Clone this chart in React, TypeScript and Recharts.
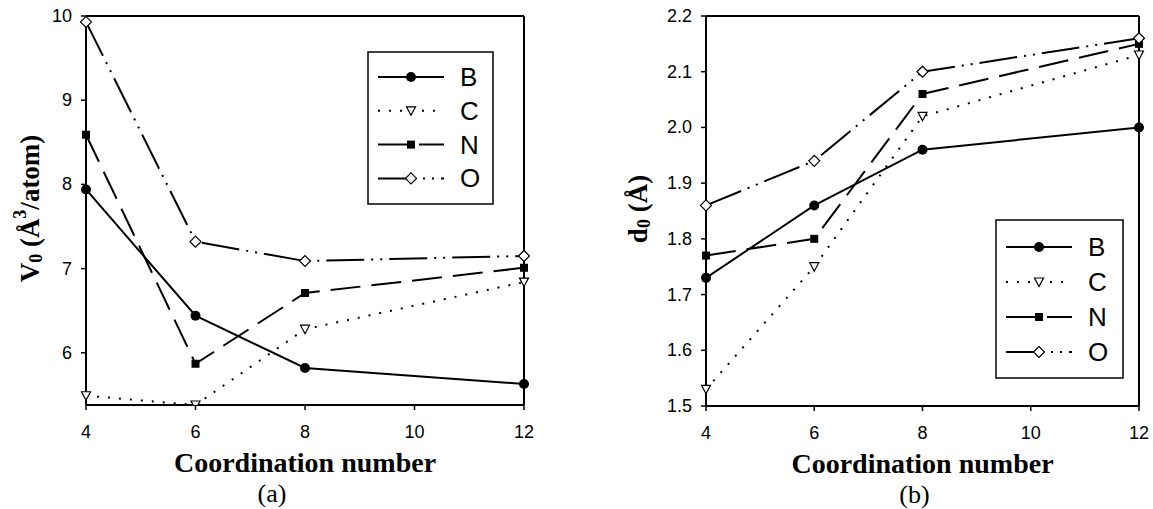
import React from 'react';
import { LineChart, Line, XAxis, YAxis, ReferenceLine } from 'recharts';

// shared x values
const coordination = [4, 6, 8, 12];
const xTicks = [4, 6, 8, 10, 12];

// (a) V0 (Å^3/atom)
const volumeB = [7.94, 6.44, 5.82, 5.63];
const volumeC = [5.49, 5.38, 6.28, 6.84];
const volumeN = [8.59, 5.87, 6.71, 7.01];
const volumeO = [9.93, 7.32, 7.09, 7.15];
const volumeTicks = [6, 7, 8, 9, 10];

// (b) d0 (Å)
const bondB = [1.73, 1.86, 1.96, 2.0];
const bondC = [1.53, 1.75, 2.02, 2.13];
const bondN = [1.77, 1.8, 2.06, 2.15];
const bondO = [1.86, 1.94, 2.1, 2.16];
const bondTicks = [1.5, 1.6, 1.7, 1.8, 1.9, 2.0, 2.1, 2.2];

const seriesNames = ['B', 'C', 'N', 'O'];

const SERIF = "'Times New Roman', 'Liberation Serif', serif";
const SANS = "Arial, 'Liberation Sans', sans-serif";

const lineStyle: Record<string, { dash?: string; marker: string }> = {
  B: { dash: undefined, marker: 'circle' },
  C: { dash: '2 9', marker: 'triangle' },
  N: { dash: '30 11', marker: 'square' },
  O: { dash: '38 7 2 7 2 7', marker: 'diamond' },
};

const buildRows = (b: number[], c: number[], n: number[], o: number[]) =>
  coordination.map((x, i) => ({ x, B: b[i], C: c[i], N: n[i], O: o[i] }));

const volumeData = buildRows(volumeB, volumeC, volumeN, volumeO);
const bondData = buildRows(bondB, bondC, bondN, bondO);

function Marker({ shape, cx, cy }: { shape: string; cx: number; cy: number }) {
  if (cx == null || cy == null) return null;
  if (shape === 'circle') return <circle cx={cx} cy={cy} r={5} fill="#000" />;
  if (shape === 'square')
    return <rect x={cx - 4} y={cy - 4} width={8} height={8} fill="#000" />;
  if (shape === 'triangle')
    return (
      <polygon
        points={`${cx - 4.5},${cy - 4} ${cx + 4.5},${cy - 4} ${cx},${cy + 4.5}`}
        fill="#fff"
        stroke="#000"
        strokeWidth={1.2}
      />
    );
  return (
    <polygon
      points={`${cx - 5.5},${cy} ${cx},${cy - 5.5} ${cx + 5.5},${cy} ${cx},${cy + 5.5}`}
      fill="#fff"
      stroke="#000"
      strokeWidth={1.2}
    />
  );
}

// tick labels drawn by hand so the font size sticks
function XTick({ x, y, payload }: any) {
  return (
    <text x={x} y={y + 9} textAnchor="middle" dominantBaseline="central" fontFamily={SANS} fontSize={18} fill="#000">
      {payload.value}
    </text>
  );
}

function YTick({ x, y, payload, fmt }: any) {
  return (
    <text x={x} y={y} textAnchor="end" dominantBaseline="central" fontFamily={SANS} fontSize={18} fill="#000">
      {fmt(payload.value)}
    </text>
  );
}

function YTitle({ viewBox, cx, kind }: any) {
  const cy = viewBox.y + viewBox.height / 2 - 2;
  return (
    <text
      x={cx}
      y={cy}
      transform={`rotate(-90 ${cx} ${cy})`}
      textAnchor="middle"
      dominantBaseline="central"
      fontFamily={SERIF}
      fontWeight="bold"
      fontSize={27}
      fill="#000"
    >
      {kind === 'volume' ? (
        <>
          V<tspan dy={6} fontSize={18}>0</tspan>
          <tspan dy={-6}> (Å</tspan>
          <tspan dy={-10} fontSize={18}>3</tspan>
          <tspan dy={10}>/atom)</tspan>
        </>
      ) : (
        <>
          d<tspan dy={6} fontSize={18}>0</tspan>
          <tspan dy={-6}> (Å)</tspan>
        </>
      )}
    </text>
  );
}

function XTitle({ viewBox, panel, panelDx }: any) {
  const cx = viewBox.x + viewBox.width / 2;
  return (
    <g>
      <text
        x={cx}
        y={viewBox.y + 57}
        textAnchor="middle"
        dominantBaseline="central"
        fontFamily={SERIF}
        fontWeight="bold"
        fontSize={28}
        fill="#000"
      >
        Coordination number
      </text>
      <text
        x={cx + panelDx}
        y={viewBox.y + 88}
        textAnchor="middle"
        dominantBaseline="central"
        fontFamily={SERIF}
        fontSize={26}
        fill="#000"
      >
        {panel}
      </text>
    </g>
  );
}

function LegendBox({ left, top, width, height, rowTop, rowGap }: any) {
  return (
    <svg
      width={width + 2}
      height={height + 2}
      style={{ position: 'absolute', left: left - 1, top: top - 1 }}
    >
      <rect x={1} y={1} width={width} height={height} fill="#fff" stroke="#000" strokeWidth={1.5} />
      {seriesNames.map((name, i) => {
        const y = 1 + rowTop + i * rowGap;
        const st = lineStyle[name];
        return (
          <g key={name}>
            <line x1={11} x2={77} y1={y} y2={y} stroke="#000" strokeWidth={2} strokeDasharray={st.dash} />
            <Marker shape={st.marker} cx={44} cy={y} />
            <text
              x={93}
              y={y}
              dominantBaseline="central"
              fontFamily={SANS}
              fontSize={26}
              fill="#000"
            >
              {name}
            </text>
          </g>
        );
      })}
    </svg>
  );
}

function Panel({ data, domain, ticks, fmt, margin, yAxisWidth, yTitleX, kind, panel, panelDx }: any) {
  return (
    <LineChart width={576} height={509} data={data} margin={margin}>
      <XAxis
        dataKey="x"
        type="number"
        domain={[4, 12]}
        ticks={xTicks}
        axisLine={{ stroke: '#000', strokeWidth: 2 }}
        tickLine={{ stroke: '#000', strokeWidth: 1.5 }}
        tickSize={5}
        tickMargin={13}
        tick={<XTick />}
        height={40}
        interval={0}
        label={<XTitle panel={panel} panelDx={panelDx} />}
      />
      <YAxis
        type="number"
        domain={domain}
        ticks={ticks}
        allowDataOverflow
        axisLine={{ stroke: '#000', strokeWidth: 2 }}
        tickLine={{ stroke: '#000', strokeWidth: 1.5 }}
        tickSize={5}
        tickMargin={9}
        tick={<YTick fmt={fmt} />}
        width={yAxisWidth}
        interval={0}
        label={<YTitle cx={yTitleX} kind={kind} />}
      />
      <ReferenceLine y={domain[1]} stroke="#000" strokeWidth={2} />
      <ReferenceLine x={12} stroke="#000" strokeWidth={2} />
      {seriesNames.map((name) => (
        <Line
          key={name}
          dataKey={name}
          type="linear"
          stroke="#000"
          strokeWidth={2}
          strokeDasharray={lineStyle[name].dash}
          dot={(p: any) => <Marker key={`${name}-${p.index}`} shape={lineStyle[name].marker} cx={p.cx} cy={p.cy} />}
          activeDot={false}
          isAnimationActive={false}
        />
      ))}
    </LineChart>
  );
}

export default function App() {
  return (
    <div style={{ position: 'absolute', left: 0, top: 0, width: 1153, height: 509, background: '#fff' }}>
      <div style={{ position: 'absolute', left: 0, top: 0 }}>
        <Panel
          data={volumeData}
          domain={[5.38, 10]}
          ticks={volumeTicks}
          fmt={(v: number) => String(v)}
          margin={{ top: 16, right: 52, bottom: 64, left: 30 }}
          yAxisWidth={56}
          yTitleX={30}
          kind="volume"
          panel="(a)"
          panelDx={-33}
        />
      </div>
      <div style={{ position: 'absolute', left: 576, top: 0 }}>
        <Panel
          data={bondData}
          domain={[1.5, 2.2]}
          ticks={bondTicks}
          fmt={(v: number) => v.toFixed(1)}
          margin={{ top: 16, right: 13, bottom: 63, left: 74 }}
          yAxisWidth={56}
          yTitleX={62}
          kind="bond"
          panel="(b)"
          panelDx={-8}
        />
      </div>
      <LegendBox left={368} top={52} width={125} height={152} rowTop={25} rowGap={33.8} />
      <LegendBox left={996} top={220} width={127} height={158} rowTop={27} rowGap={35} />
    </div>
  );
}
